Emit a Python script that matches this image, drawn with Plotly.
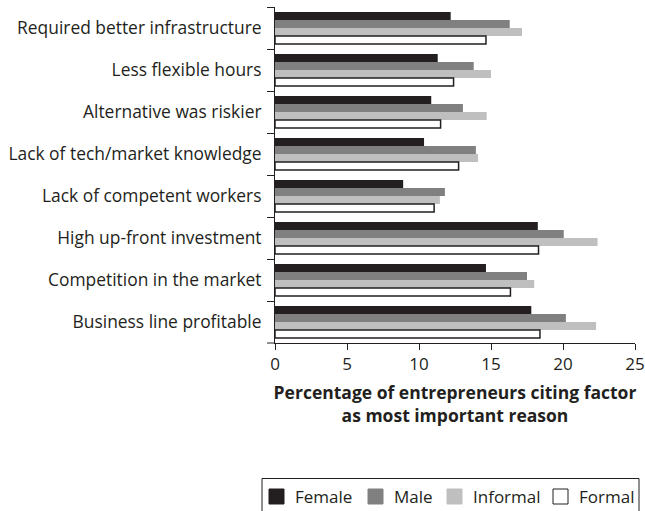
import plotly.graph_objects as go

categories = [
    "Required better infrastructure",
    "Less flexible hours",
    "Alternative was riskier",
    "Lack of tech/market knowledge",
    "Lack of competent workers",
    "High up-front investment",
    "Competition in the market",
    "Business line profitable",
]
female = [12.2, 11.3, 10.85, 10.35, 8.9, 18.25, 14.65, 17.8]
male = [16.3, 13.8, 13.05, 13.95, 11.8, 20.05, 17.5, 20.2]
informal = [17.15, 15.0, 14.7, 14.1, 11.45, 22.4, 18.0, 22.3]
formal = [14.65, 12.4, 11.5, 12.75, 11.05, 18.3, 16.35, 18.4]
series_names = ["Female", "Male", "Informal", "Formal"]
x_ticks = [0, 5, 10, 15, 20, 25]

DARK = "#231f20"
FONT = "Open Sans"
fills = [DARK, "#808080", "#bfbfbf", "#ffffff"]
lines = [DARK, "#808080", "#bfbfbf", DARK]
lwidths = [0, 0, 0, 1.5]

W, H = 645, 511
ML, MR, MT, MB = 275, 10, 7, 168
PW, PH = W - ML - MR, H - MT - MB


def px_x(px):
    return (px - ML) / PW


def px_y(py):
    return (H - MB - py) / PH


fig = go.Figure()
for name, vals, fill, line, lw in zip(series_names, [female, male, informal, formal], fills, lines, lwidths):
    fig.add_trace(go.Bar(
        y=categories, x=vals, name=name, orientation="h",
        marker=dict(color=fill, line=dict(color=line, width=lw)),
        showlegend=False,
    ))

# hand-built legend box (layout decoration)
legend_sym_x = [269, 368, 447, 553]
shapes = [
    dict(type="line", xref="paper", yref="paper", x0=px_x(267), x1=0, y0=0, y1=0,
         line=dict(color=DARK, width=1)),
    dict(type="rect", xref="paper", yref="paper", x0=px_x(262), x1=px_x(639),
         y0=px_y(516), y1=px_y(478.5), line=dict(color=DARK, width=1), fillcolor="rgba(0,0,0,0)"),
]
annotations = []
for name, sx, fill, line in zip(series_names, legend_sym_x, fills, lines):
    shapes.append(dict(type="rect", xref="paper", yref="paper",
                       x0=px_x(sx), x1=px_x(sx + 15), y0=px_y(504), y1=px_y(489),
                       fillcolor=fill, line=dict(color=line, width=1)))
    annotations.append(dict(text=name, xref="paper", yref="paper", x=px_x(sx + 24), y=px_y(496.5),
                            xanchor="left", yanchor="middle", showarrow=False,
                            font=dict(family=FONT, size=17, color=DARK)))

fig.update_layout(
    width=W, height=H,
    paper_bgcolor="white", plot_bgcolor="white",
    margin=dict(l=ML, r=MR, t=MT, b=MB, autoexpand=False),
    barmode="group", bargap=0.24, bargroupgap=0,
    font=dict(family=FONT, size=17, color=DARK),
    showlegend=False,
    xaxis=dict(
        range=[0, 25], tickvals=x_ticks, ticktext=[str(v) for v in x_ticks],
        showgrid=False, zeroline=False, showline=True, linecolor=DARK, linewidth=1,
        ticks="outside", ticklen=6, tickcolor=DARK, tickfont=dict(size=17),
        automargin=False,
        title=dict(text="<b>Percentage of entrepreneurs citing factor<br>as most important reason</b>",
                   font=dict(size=17.5), standoff=12),
    ),
    yaxis=dict(
        autorange="reversed", showgrid=False, zeroline=False,
        showline=True, linecolor=DARK, linewidth=1, automargin=False,
        ticks="outside", tickson="boundaries", ticklen=7, tickcolor=DARK,
        tickfont=dict(size=17.4), ticklabelstandoff=9,
    ),
    shapes=shapes,
    annotations=annotations,
)

fig.write_html("out.html", config={"displayModeBar": False},
               post_script="document.body.style.margin='0';")
